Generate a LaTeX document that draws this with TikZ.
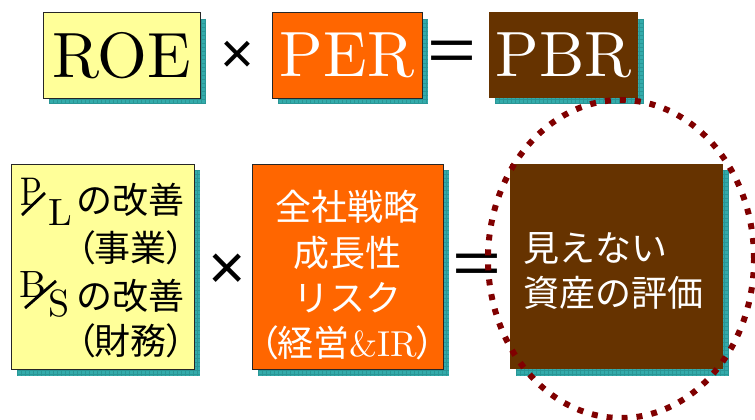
\documentclass[tikz,border=0pt]{standalone}
\usepackage{fontspec}
\setmainfont{lmroman10-regular.otf}
\newfontfamily\jpfont{Noto Sans CJK JP}
\newfontfamily\jppfont{Noto Sans CJK JP}[RawFeature=+palt]
\newfontfamily\symfont{Liberation Sans}
\definecolor{boxyellow}{HTML}{FFFF99}
\definecolor{boxorange}{HTML}{FF6600}
\definecolor{boxbrown}{HTML}{663300}
\definecolor{shteal}{HTML}{33ABAB}
\definecolor{shgrid}{HTML}{2A9696}
\definecolor{dotred}{HTML}{800000}
\newcommand\tealshadow[4]{%
  \begin{scope}
    \clip (#1,#2) rectangle (#3,#4);
    \fill[shteal] (#1,#2) rectangle (#3,#4);
    \foreach \gx in {0,4,...,240} \draw[shgrid,line width=0.5pt] ({#1+\gx},#2) -- ({#1+\gx},#4);
    \foreach \gy in {0,4,...,240} \draw[shgrid,line width=0.5pt] (#1,{#2+\gy}) -- (#3,{#2+\gy});
  \end{scope}}
\newcommand\lpar{{\jppfont （}}
\newcommand\rpar{{\jppfont ）}}
\tikzset{
  bigbox/.style={rectangle, inner sep=0pt, font=\fontsize{64}{64}\selectfont},
  txt/.style={inner sep=0pt, font=\fontsize{36}{36}\selectfont},
  fractxt/.style={inner sep=0pt, font=\fontsize{38}{38}\selectfont},
  jptxt/.style={inner sep=0pt, font=\fontsize{36}{36}\selectfont\jpfont},
  opsym/.style={inner sep=0pt, font=\symfont},
  fracbar/.style={line width=2.8pt},
}
\begin{document}
\begin{tikzpicture}[x=1pt,y=-1pt]
\useasboundingbox (0,0) rectangle (755,420);
% shadows
\tealshadow{49}{19}{206}{104}
\tealshadow{278}{19}{428}{104}
\tealshadow{495}{19}{644}{104}
\tealshadow{17}{170}{200}{376}
\tealshadow{258}{170}{449}{376}
\tealshadow{516}{170}{729}{376}
% top row
\node[bigbox, fill=boxyellow, draw=black!85, line width=1pt, minimum width=157pt, minimum height=85pt] (roe) at (121.5,55.5) {ROE};
\node[bigbox, fill=boxorange, draw=black!85, line width=1pt, text=white, minimum width=150pt, minimum height=85pt] (per) at (347,55.5) {PER};
\node[bigbox, fill=boxbrown, text=white, minimum width=149pt, minimum height=85pt] (pbr) at (563.5,55) {PBR};
\node[opsym, font=\symfont\fontsize{58}{58}\selectfont] (times1) at (237.5,57.5) {×};
\node[opsym, font=\symfont\fontsize{60}{60}\selectfont, xscale=1.4] (eq1) at (452,56) {=};
% bottom boxes
\node[rectangle, fill=boxyellow, draw=black!85, line width=1pt, minimum width=183pt, minimum height=205pt] (bsbox) at (102.5,266.5) {};
\node[rectangle, fill=boxorange, draw=black!85, line width=1pt, minimum width=191pt, minimum height=205pt] (stratbox) at (347.5,266.5) {};
\node[rectangle, fill=boxbrown, minimum width=213pt, minimum height=205pt] (assetbox) at (616.5,266.5) {};
% yellow box text
\node[fractxt, anchor=base west, xscale=0.8, font=\fontsize{40}{40}\selectfont] (pP) at (20.5,205) {P};
\node[fractxt, anchor=base west] (pL) at (48,225) {L};
\draw[fracbar] (22,215) -- (45,193);
\node[jptxt, anchor=base east] (pl1) at (185,213) {の改善};
\node[jptxt, anchor=base east] (pl2) at (185,261) {\lpar 事業\rpar};
\node[fractxt, anchor=base west] (bB) at (19,297) {B};
\node[fractxt, anchor=base west] (bS) at (48,316) {S};
\draw[fracbar] (25,308) -- (56,281);
\node[jptxt, anchor=base east] (bs1) at (185,309) {の改善};
\node[jptxt, anchor=base east] (bs2) at (185,354) {\lpar 財務\rpar};
% orange box text
\node[jptxt, text=white, anchor=base] (st1) at (347.5,220) {全社戦略};
\node[jptxt, text=white, anchor=base] (st2) at (347.5,266) {成長性};
\node[jptxt, text=white, anchor=base] (st3) at (347.5,311) {リスク};
\node[txt, text=white, anchor=base] (st4) at (347.5,356) {\lpar{\jpfont 経営}\&IR\rpar};
% brown box text
\node[jptxt, text=white, anchor=base west] (as1) at (523,261) {見えない};
\node[jptxt, text=white, anchor=base west] (as2) at (523,306) {資産の評価};
% operators
\node[opsym, font=\symfont\fontsize{64}{64}\selectfont] (times2) at (227,272) {×};
\node[opsym, font=\symfont\fontsize{60}{60}\selectfont, xscale=1.4] (eq2) at (477.5,269) {=};
% dotted ellipse
\draw[dotred, line width=6pt, dash pattern=on 6pt off 9pt] (assetbox.center) ++(4.5,-7.5) ellipse [x radius=133pt, y radius=159pt];
\end{tikzpicture}
\end{document}
